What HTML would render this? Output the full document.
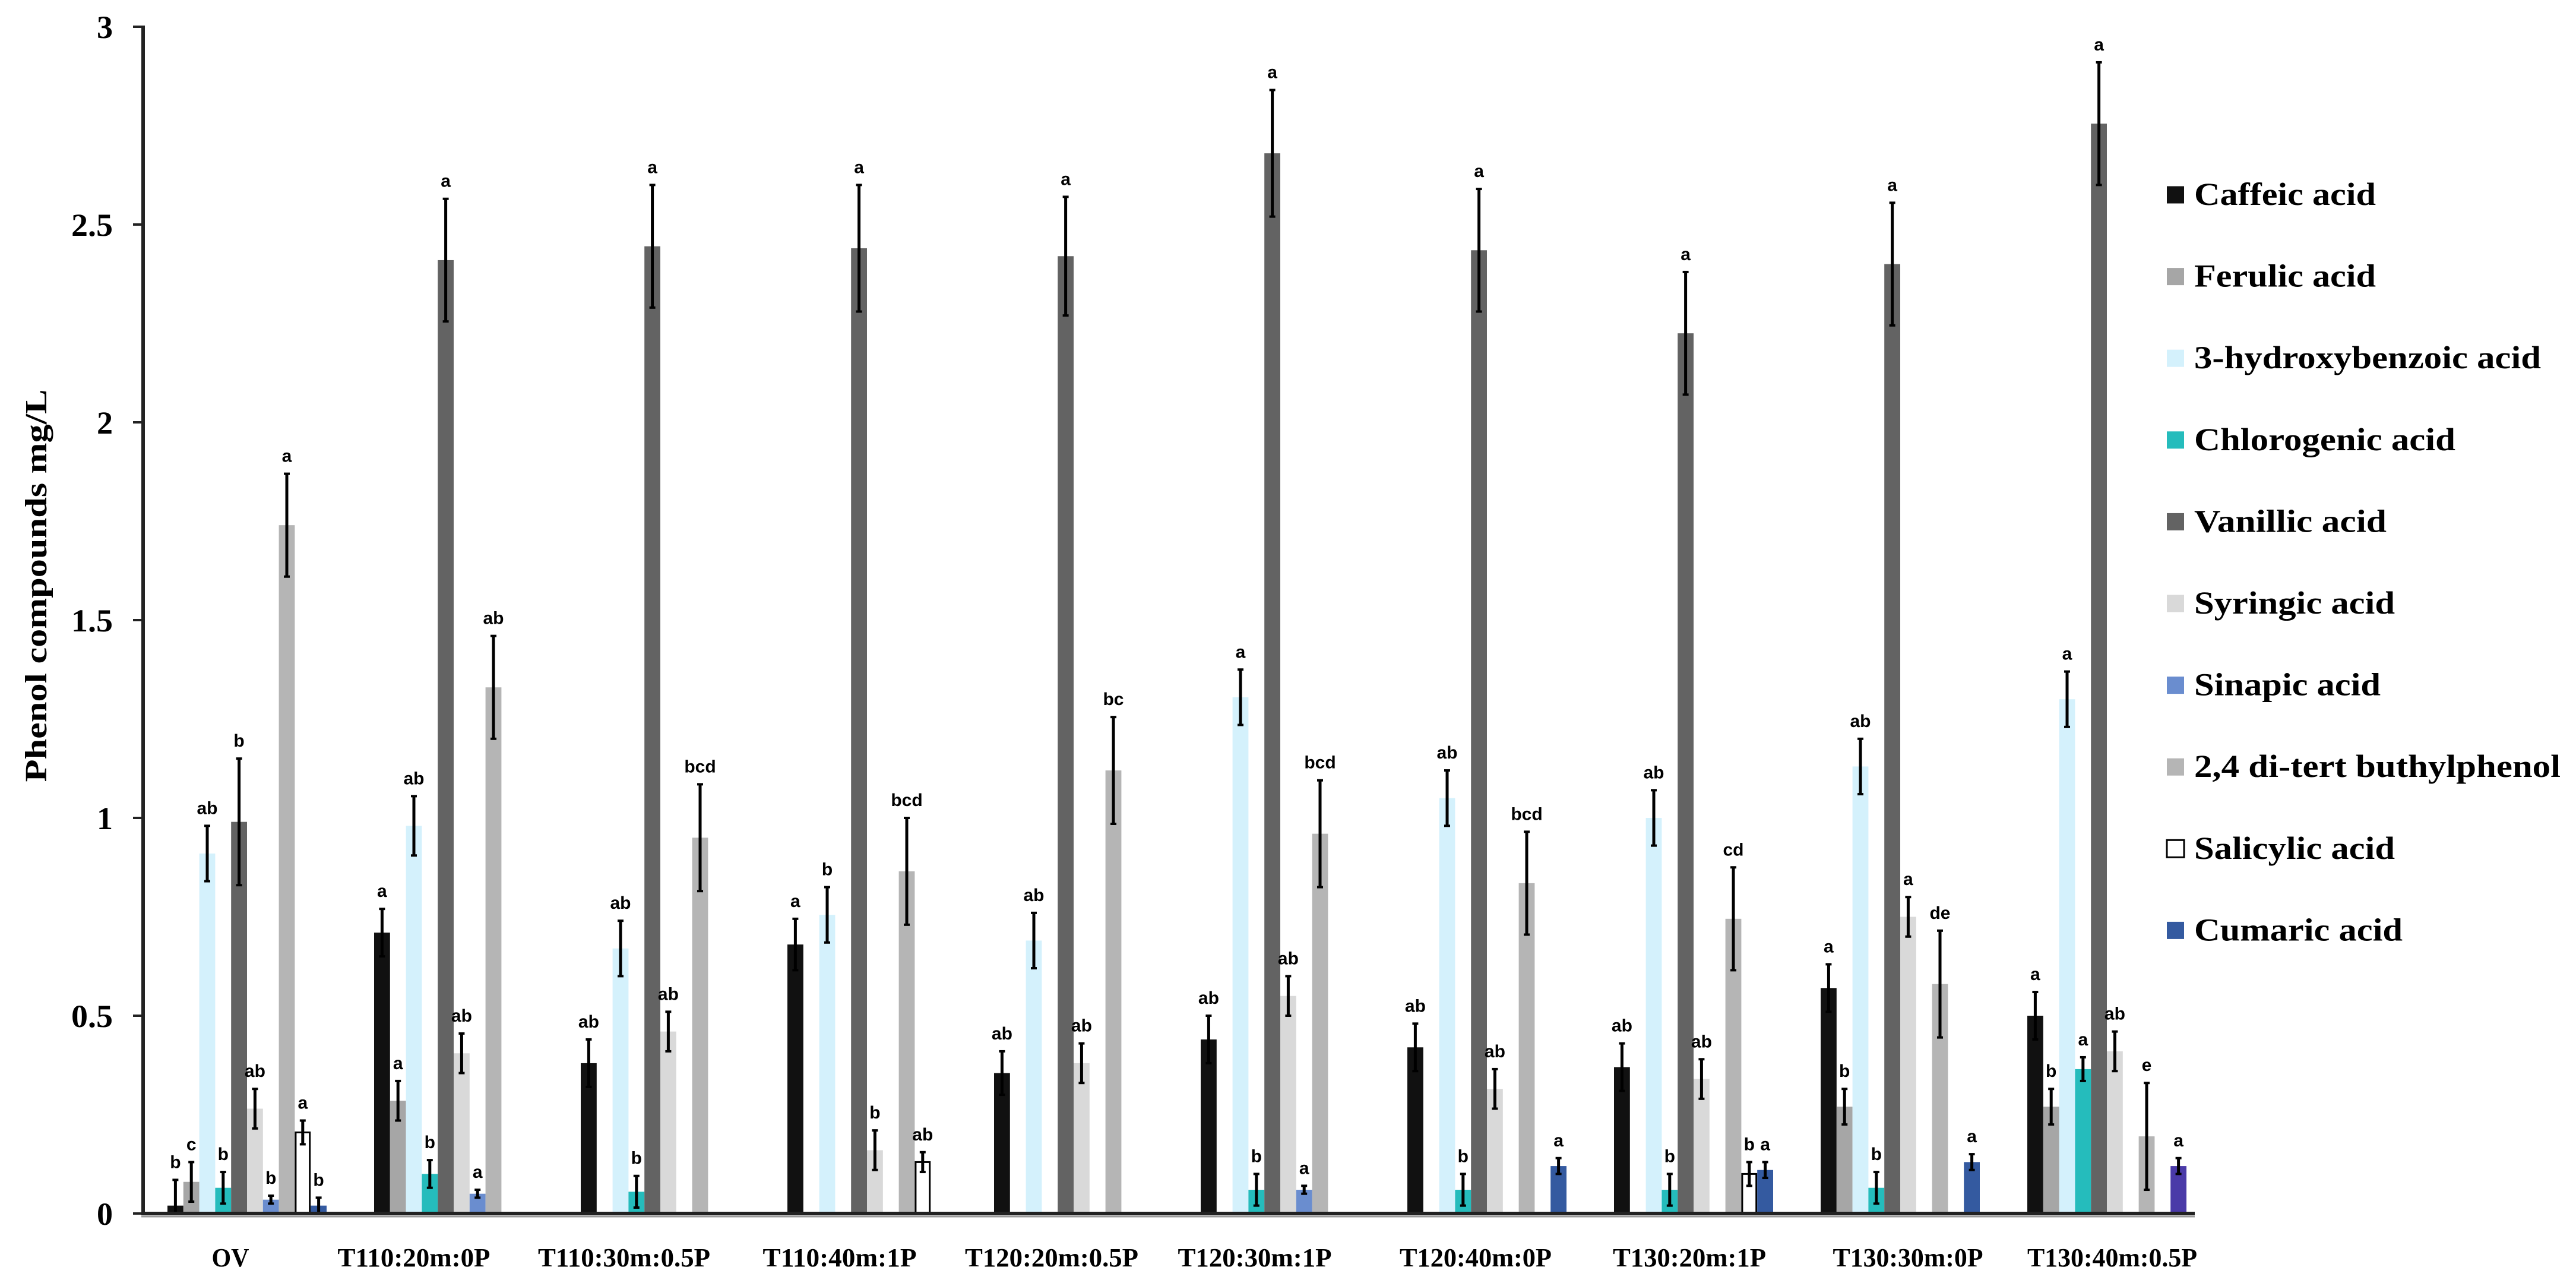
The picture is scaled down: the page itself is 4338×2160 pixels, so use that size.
<!DOCTYPE html>
<html><head><meta charset="utf-8"><style>
html,body{margin:0;padding:0;background:#fff;}
svg{display:block;}
</style></head><body>
<svg id="chart" xmlns="http://www.w3.org/2000/svg" width="4338" height="2160" viewBox="0 0 4338 2160">
<rect x="0" y="0" width="4338" height="2160" fill="#fff"/>
<g id="bars"></g>
<g id="axes"></g>
<g id="legend"></g>
<text transform="translate(78,986) rotate(-90)" text-anchor="middle" font-family="Liberation Serif, serif" font-weight="bold" font-size="52" textLength="661" lengthAdjust="spacingAndGlyphs">Phenol compounds  mg/L</text>
</svg>
<script>
const categories = ["OV","T110:20m:0P","T110:30m:0.5P","T110:40m:1P","T120:20m:0.5P","T120:30m:1P","T120:40m:0P","T130:20m:1P","T130:30m:0P","T130:40m:0.5P"];
const seriesNames = ["Caffeic acid","Ferulic acid","3-hydroxybenzoic acid","Chlorogenic acid","Vanillic acid","Syringic acid","Sinapic acid","2,4 di-tert buthylphenol","Salicylic acid","Cumaric acid"];
const caffeic   = [0.02,0.71,0.38,0.68,0.355,0.44,0.42,0.37,0.57,0.50];
const ferulic   = [0.08,0.285,0,0,0,0,0,0,0.27,0.27];
const hydroxyb  = [0.91,0.98,0.67,0.755,0.69,1.305,1.05,1.0,1.13,1.30];
const chloro    = [0.065,0.10,0.055,0,0,0.06,0.06,0.06,0.065,0.365];
const vanillic  = [0.99,2.41,2.445,2.44,2.42,2.68,2.435,2.225,2.40,2.755];
const syringic  = [0.265,0.405,0.46,0.16,0.38,0.55,0.315,0.34,0.75,0.41];
const sinapic   = [0.035,0.05,0,0,0,0.06,0,0,0,0];
const ditert    = [1.74,1.33,0.95,0.865,1.12,0.96,0.835,0.745,0.58,0.195];
const salicylic = [0.205,0,0,0.13,0,0,0,0.10,0,0];
const cumaric   = [0.02,0,0,0,0,0,0.12,0.11,0.13,0.12];
const errCaffeic   = [0.065,0.06,0.06,0.065,0.055,0.06,0.06,0.06,0.06,0.06];
const errFerulic   = [0.05,0.05,0,0,0,0,0,0,0.045,0.045];
const errHydroxyb  = [0.07,0.075,0.07,0.07,0.07,0.07,0.07,0.07,0.07,0.07];
const errChloro    = [0.04,0.035,0.04,0,0,0.04,0.04,0.04,0.04,0.03];
const errVanillic  = [0.16,0.155,0.155,0.16,0.15,0.16,0.155,0.155,0.155,0.155];
const errSyringic  = [0.05,0.05,0.05,0.05,0.05,0.05,0.05,0.05,0.05,0.05];
const errSinapic   = [0.01,0.01,0,0,0,0.01,0,0,0,0];
const errDitert    = [0.13,0.13,0.135,0.135,0.135,0.135,0.13,0.13,0.135,0.135];
const errSalicylic = [0.03,0,0,0.025,0,0,0,0.03,0,0];
const errCumaric   = [0.02,0,0,0,0,0,0.02,0.02,0.02,0.02];
const lettersCaffeic   = ["b","a","ab","a","ab","ab","ab","ab","a","a"];
const lettersFerulic   = ["c","a","","","","","","","b","b"];
const lettersHydroxyb  = ["ab","ab","ab","b","ab","a","ab","ab","ab","a"];
const lettersChloro    = ["b","b","b","","","b","b","b","b","a"];
const lettersVanillic  = ["b","a","a","a","a","a","a","a","a","a"];
const lettersSyringic  = ["ab","ab","ab","b","ab","ab","ab","ab","a","ab"];
const lettersSinapic   = ["b","a","","","","a","","","",""];
const lettersDitert    = ["a","ab","bcd","bcd","bc","bcd","bcd","cd","de","e"];
const lettersSalicylic = ["a","","","ab","","","","b","",""];
const lettersCumaric   = ["b","","","","","","a","a","a","a"];
const yTicks = [0,0.5,1,1.5,2,2.5,3];
const yTickLabels = ["0","0.5","1","1.5","2","2.5","3"];

const values = [caffeic,ferulic,hydroxyb,chloro,vanillic,syringic,sinapic,ditert,salicylic,cumaric];
const errs = [errCaffeic,errFerulic,errHydroxyb,errChloro,errVanillic,errSyringic,errSinapic,errDitert,errSalicylic,errCumaric];
const letters = [lettersCaffeic,lettersFerulic,lettersHydroxyb,lettersChloro,lettersVanillic,lettersSyringic,lettersSinapic,lettersDitert,lettersSalicylic,lettersCumaric];
const colors = ["#111111","#a6a6a6","#d4f1fc","#25bcbc","#636363","#d9d9d9","#6a8dcf","#b5b5b5","#ffffff","#345aa0"];
const labelCenters = [388,697,1051,1414,1771,2113,2485,2845,3213,3557];
const labelWidths = [63,257,290,259,292,259,256,258,253,286];
const legendWidths = [306,306,584,440,324,338,314,617,338,351];

const NS = "http://www.w3.org/2000/svg";
const Y0 = 2043, PX = 666;
function yScale(v){ return Y0 - v*PX; }
const GROUP0 = 282, STRIDE = 348, BW = 26.8;
function xScale(g,s){ return GROUP0 + g*STRIDE + s*BW; }
function mk(tag, attrs, parent){ const e=document.createElementNS(NS,tag); for(const k in attrs) e.setAttribute(k,attrs[k]); parent.appendChild(e); return e; }

const bars = document.getElementById('bars');
for(let s=0;s<values.length;s++){
  for(let g=0;g<categories.length;g++){
    const v = values[s][g];
    if(!v) continue;
    const x = xScale(g,s), y = yScale(v);
    let fill = colors[s];
    if(s===9 && g===9) fill = "#4a3aa8";
    const r = mk('rect',{x:x,y:y,width:BW,height:Y0-y,fill:fill},bars);
    if(s===8){ r.setAttribute('stroke','#000'); r.setAttribute('stroke-width','3'); r.setAttribute('x',x+1.5); r.setAttribute('width',BW-3); }
    
    
    const e = errs[s][g];
    const cx = x + BW/2;
    const top = yScale(v+e), bot = yScale(Math.max(0,v-e));
    const eg = mk('g',{},bars);
    
    
    mk('line',{x1:cx,x2:cx,y1:top,y2:bot,stroke:'#000','stroke-width':5},eg);
    mk('line',{x1:cx-5,x2:cx+5,y1:top,y2:top,stroke:'#000','stroke-width':4},eg);
    mk('line',{x1:cx-5,x2:cx+5,y1:bot,y2:bot,stroke:'#000','stroke-width':4},eg);
    const L = letters[s][g];
    if(L){
      const t = mk('text',{x:cx,y:top-20,'text-anchor':'middle','font-family':'Liberation Sans, sans-serif','font-weight':'bold','font-size':30},bars);
      t.textContent = L;
      
      
    }
  }
}

const axes = document.getElementById('axes');
const ya = mk('line',{x1:241,x2:241,y1:yScale(3)-2,y2:Y0+3,stroke:'#222','stroke-width':6},axes);


const xa = mk('line',{x1:238,x2:3696,y1:Y0,y2:Y0,stroke:'#222','stroke-width':6},axes);


mk('line',{x1:238,x2:3696,y1:Y0+5,y2:Y0+5,stroke:'#999','stroke-width':3},axes);
for(let i=0;i<yTicks.length;i++){
  const y = yScale(yTicks[i]);
  const tk = mk('line',{x1:224,x2:241,y1:y,y2:y,stroke:'#222','stroke-width':4},axes);
  
  
  const lab = yTickLabels[i];
  const t = mk('text',{x:190,y:y+19,'text-anchor':'end','font-family':'Liberation Serif, serif','font-weight':'bold','font-size':54},axes);
  if(lab.length>1){ t.setAttribute('textLength',70); t.setAttribute('lengthAdjust','spacingAndGlyphs'); }
  t.textContent = lab;
  
  
}
for(let g=0;g<categories.length;g++){
  const t = mk('text',{x:labelCenters[g]-labelWidths[g]/2,y:2132,'font-family':'Liberation Serif, serif','font-weight':'bold','font-size':44,textLength:labelWidths[g],lengthAdjust:'spacingAndGlyphs'},axes);
  t.textContent = categories[g];
  
  
}

const legend = document.getElementById('legend');
for(let s=0;s<seriesNames.length;s++){
  const cy = 328 + s*137.6;
  const g = mk('g',{},legend);
  
  
  const sq = mk('rect',{x:3649,y:cy-14.5,width:29,height:29,fill:colors[s]},g);
  if(s===8){ sq.setAttribute('stroke','#000'); sq.setAttribute('stroke-width','3'); }
  
  
  const t = mk('text',{x:3695,y:cy+17,'font-family':'Liberation Serif, serif','font-weight':'bold','font-size':54,textLength:legendWidths[s],lengthAdjust:'spacingAndGlyphs'},g);
  t.textContent = seriesNames[s];
  
  
}
</script>
</body></html>
